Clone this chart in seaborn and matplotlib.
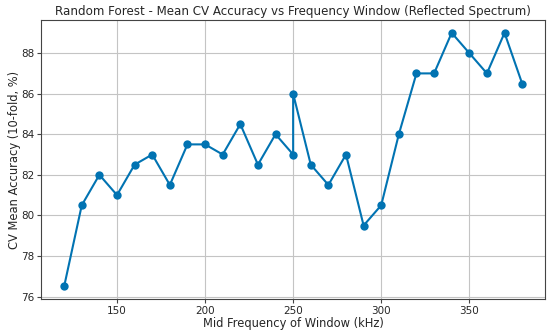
import pandas as pd
import seaborn as sns
import matplotlib.pyplot as plt

freq = [120, 130, 140, 150, 160, 170, 180, 190, 200, 210, 220, 230, 240,
        250, 250, 260, 270, 280, 290, 300, 310, 320, 330, 340, 350, 360, 370, 380]
acc = [76.5, 80.5, 82, 81, 82.5, 83, 81.5, 83.5, 83.5, 83, 84.5, 82.5, 84,
       83, 86, 82.5, 81.5, 83, 79.5, 80.5, 84, 87, 87, 89, 88, 87, 89, 86.5]

df = pd.DataFrame({'freq': freq, 'acc': acc})

sns.set_style('whitegrid', {'grid.color': '#c4c4c4', 'axes.edgecolor': '#444444'})
plt.rcParams['font.family'] = ['DejaVu Sans']

fig, ax = plt.subplots(figsize=(5.5, 3.36), dpi=100)
sns.lineplot(data=df, x='freq', y='acc', sort=False, estimator=None,
             color='#0173b2', marker='o', markersize=6, markeredgewidth=0,
             linewidth=1.5, ax=ax)

ax.set_title('Random Forest - Mean CV Accuracy vs Frequency Window (Reflected Spectrum)', fontsize=8.6, pad=4)
ax.set_xlabel('Mid Frequency of Window (kHz)', fontsize=8.3, labelpad=1)
ax.set_ylabel('CV Mean Accuracy (10-fold, %)', fontsize=8.3, labelpad=0)
ax.tick_params(labelsize=7.5, length=3, left=True, bottom=True, color='#444444', pad=2)
ax.set_xticks([150, 200, 250, 300, 350])
ax.set_yticks([76, 78, 80, 82, 84, 86, 88])

plt.subplots_adjust(left=0.075, right=0.991, top=0.94, bottom=0.11)
plt.savefig('out.png', dpi=100)
